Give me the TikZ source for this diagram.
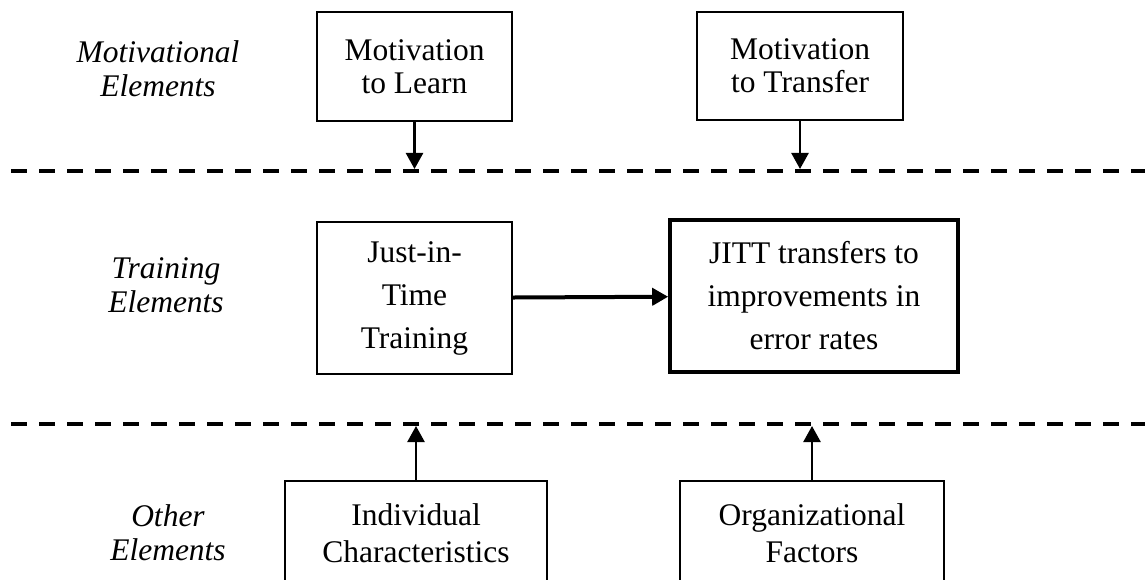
\documentclass[tikz,border=0pt]{standalone}
\usepackage{fontspec}
\setmainfont{Liberation Serif}
\usepackage{tikz}
\usetikzlibrary{
    positioning,
    calc,
    arrows.meta
}
\tikzset{
  box/.style = {
      draw,
      rectangle,
      line width=2pt,
      align=center,
      inner sep=0pt,
      font=\fontsize{31.5}{33}\selectfont
  },
  thick box/.style = {
      box,
      line width=3.6pt,
      font=\fontsize{31.5}{43}\selectfont
  },
  tall box/.style = {
      box,
      font=\fontsize{31.5}{43}\selectfont
  },
  low box/.style = {
      box,
      font=\fontsize{31.5}{37}\selectfont
  },
  side/.style = {
      align=center,
      inner sep=0pt,
      font=\fontsize{31.5}{34}\selectfont\itshape
  },
  divider/.style = {
      line width=4.5pt,
      dash pattern=on 16pt off 12pt,
      dash phase=17pt
  },
  link/.style = {
      line width=2.4pt,
      -{Triangle[length=16pt,width=17pt]},
      shorten >=2pt
  },
  main link/.style = {
      link,
      line width=4pt,
      shorten >=0pt
  }
}
\begin{document}
\begin{tikzpicture}[x=1pt,y=-1pt]
        \path[use as bounding box, clip] (0,0) rectangle (1145,580);
        % Dividers
        \coordinate (upper left) at (0,171);
        \coordinate (upper right) at (1145,171);
        \coordinate (lower left) at (0,424);
        \coordinate (lower right) at (1145,424);
        \draw[divider] (upper left) -- (upper right);
        \draw[divider] (lower left) -- (lower right);
        % Row labels
        \node[side] (motiv) at (158,69) {Motivational\\Elements};
        \node[side] (train) at (166,285) {Training\\Elements};
        \node[side] (other) at (168,533) {Other\\Elements};
        % Boxes
        \node[box, minimum width=195pt, minimum height=109pt] (learn) at (414.5,66.5) {Motivation\\to Learn};
        \node[box, minimum width=206pt, minimum height=108pt] (transfer) at (800,66) {Motivation\\to Transfer};
        \node[tall box, minimum width=195pt, minimum height=152pt] (jit) at (414.5,298) {Just-in-\\Time\\Training};
        \node[thick box, minimum width=288pt, minimum height=152pt] (jitt) at (814,296) {JITT transfers to\\improvements in\\error rates};
        \node[low box, minimum width=262pt, minimum height=105pt] (indiv) at (416,533.5) {Individual\\Characteristics};
        \node[low box, minimum width=264pt, minimum height=105pt] (org) at (812,533.5) {Organizational\\Factors};
        % Edges
        \draw[link] (learn) -- (learn |- upper left);
        \draw[link] (transfer) -- (transfer |- upper left);
        \draw[main link] (jit) -- (jitt);
        \draw[link] (indiv) -- (indiv |- lower left);
        \draw[link] (org) -- (org |- lower left);
    \end{tikzpicture}
\end{document}
